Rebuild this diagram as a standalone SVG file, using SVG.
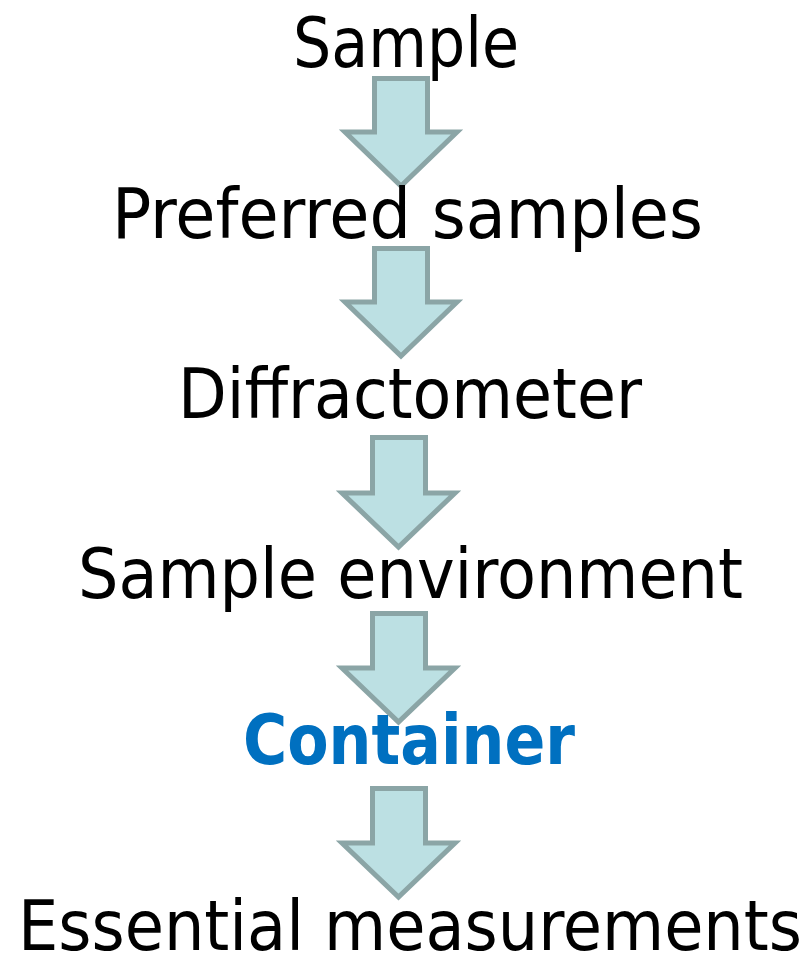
<svg xmlns="http://www.w3.org/2000/svg" width="806" height="957" viewBox="0 0 806 957">
<style>
.arrow{fill:#BCE0E3;stroke:#8BA5A6;stroke-width:5;stroke-linejoin:miter}
.lbl{font-family:"DejaVu Sans Condensed","DejaVu Sans","Liberation Sans",sans-serif;font-size:70px;fill:#000;text-anchor:start}
.hl{fill:#0070C0;font-weight:bold}
</style>
<rect width="806" height="957" fill="#fff"/>
<g id="connectors">
<path class="arrow" d="M374.5,78.5 H427.5 V132 H457 L401,186 L345,132 H374.5 Z"/>
<path class="arrow" d="M374.5,248.5 H427.5 V302 H457 L401,356 L345,302 H374.5 Z"/>
<path class="arrow" d="M372.5,437.5 H425.5 V493 H455 L398.5,547 L342,493 H372.5 Z"/>
<path class="arrow" d="M372.5,613.5 H425.5 V668 H455 L398.5,722 L342,668 H372.5 Z"/>
<path class="arrow" d="M372.5,788.5 H425.5 V843 H455 L398.5,897 L342,843 H372.5 Z"/>
</g>
<g id="n1"><text class="lbl" x="293" y="67" textLength="226" lengthAdjust="spacingAndGlyphs">Sample</text></g>
<g id="n2"><text class="lbl" x="112" y="238" textLength="591" lengthAdjust="spacingAndGlyphs">Preferred samples</text></g>
<g id="n3"><text class="lbl" x="178" y="418" textLength="464" lengthAdjust="spacingAndGlyphs">Diffractometer</text></g>
<g id="n4"><text class="lbl" x="78" y="598" textLength="665" lengthAdjust="spacingAndGlyphs">Sample environment</text></g>
<g id="n5"><text class="lbl hl" x="243" y="764" textLength="332" lengthAdjust="spacingAndGlyphs">Container</text></g>
<g id="n6"><text class="lbl" x="18" y="950" textLength="784" lengthAdjust="spacingAndGlyphs">Essential measurements</text></g>
</svg>
